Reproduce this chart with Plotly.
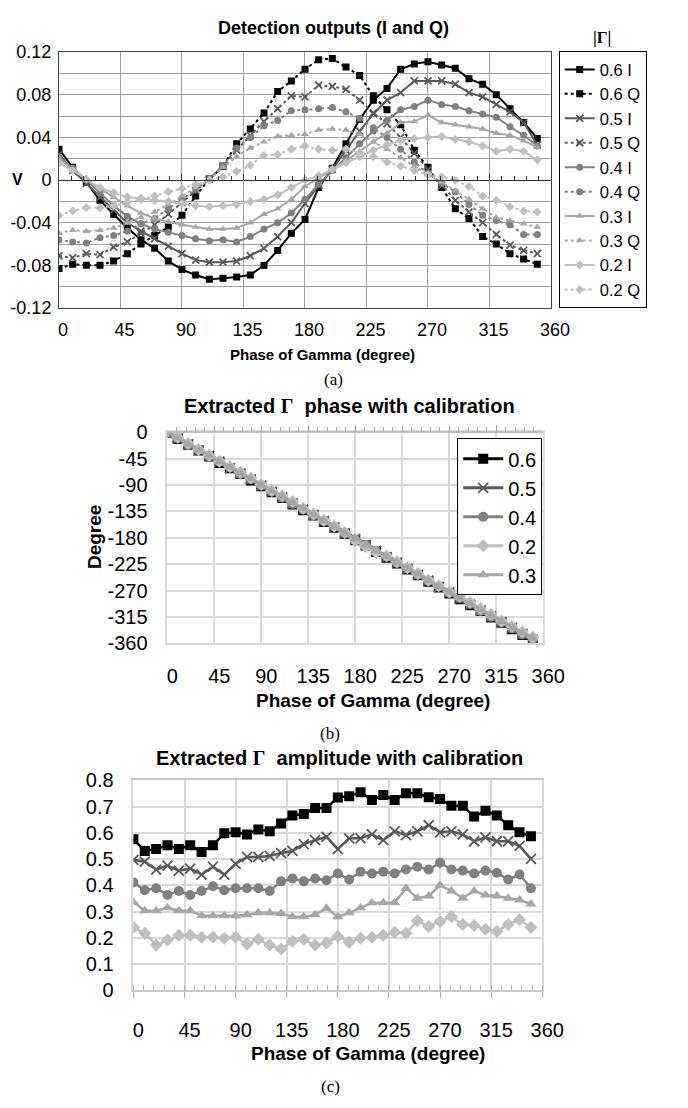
import plotly.graph_objects as go

W, H = 688, 1108
def fx(p): return p / W
def fy(p): return 1 - p / H

FONT = "Liberation Sans, Arial, Helvetica, sans-serif"
SERIF = "Liberation Serif, Times New Roman, serif"

# ---------------- data ----------------
phase = list(range(0, 360, 10))

# (a) detection outputs, volts
I06 = [0.029, 0.012, -0.002, -0.019, -0.032, -0.045, -0.056, -0.064, -0.076, -0.084, -0.089, -0.093, -0.092, -0.091, -0.089, -0.080, -0.066, -0.050, -0.037, -0.007, 0.011, 0.034, 0.057, 0.075, 0.086, 0.104, 0.109, 0.111, 0.108, 0.105, 0.095, 0.090, 0.080, 0.067, 0.054, 0.039]
Q06 = [-0.083, -0.079, -0.080, -0.080, -0.076, -0.069, -0.060, -0.052, -0.044, -0.033, -0.015, 0.001, 0.013, 0.034, 0.048, 0.063, 0.083, 0.093, 0.104, 0.113, 0.114, 0.106, 0.098, 0.079, 0.066, 0.052, 0.028, 0.012, -0.007, -0.027, -0.036, -0.053, -0.060, -0.069, -0.074, -0.079]
I05 = [0.024, 0.009, -0.003, -0.016, -0.028, -0.040, -0.048, -0.055, -0.062, -0.069, -0.075, -0.077, -0.077, -0.076, -0.071, -0.064, -0.053, -0.040, -0.022, -0.005, 0.010, 0.028, 0.046, 0.062, 0.075, 0.082, 0.093, 0.093, 0.093, 0.090, 0.082, 0.078, 0.071, 0.064, 0.054, 0.033]
Q05 = [-0.071, -0.073, -0.069, -0.070, -0.063, -0.058, -0.050, -0.042, -0.032, -0.021, -0.010, 0.001, 0.013, 0.028, 0.042, 0.055, 0.067, 0.079, 0.078, 0.089, 0.088, 0.085, 0.075, 0.063, 0.053, 0.040, 0.025, 0.010, -0.005, -0.019, -0.030, -0.040, -0.051, -0.061, -0.066, -0.069]
I04 = [0.022, 0.011, 0.000, -0.012, -0.024, -0.034, -0.041, -0.046, -0.049, -0.052, -0.055, -0.057, -0.056, -0.058, -0.053, -0.046, -0.040, -0.031, -0.018, -0.004, 0.009, 0.021, 0.034, 0.046, 0.056, 0.066, 0.069, 0.075, 0.071, 0.069, 0.065, 0.062, 0.059, 0.050, 0.042, 0.032]
Q04 = [-0.056, -0.058, -0.059, -0.054, -0.052, -0.048, -0.041, -0.036, -0.027, -0.018, -0.009, 0.001, 0.014, 0.030, 0.040, 0.051, 0.056, 0.065, 0.066, 0.067, 0.068, 0.064, 0.058, 0.049, 0.040, 0.029, 0.017, 0.006, -0.003, -0.011, -0.023, -0.033, -0.038, -0.042, -0.051, -0.051]
I03 = [0.020, 0.010, 0.001, -0.008, -0.016, -0.024, -0.031, -0.036, -0.039, -0.042, -0.044, -0.046, -0.046, -0.045, -0.040, -0.032, -0.027, -0.018, -0.006, 0.002, 0.010, 0.018, 0.027, 0.036, 0.044, 0.054, 0.055, 0.061, 0.054, 0.052, 0.050, 0.048, 0.044, 0.042, 0.037, 0.031]
Q03 = [-0.050, -0.047, -0.048, -0.047, -0.045, -0.040, -0.035, -0.030, -0.023, -0.015, -0.007, 0.000, 0.012, 0.022, 0.030, 0.036, 0.041, 0.042, 0.043, 0.047, 0.048, 0.047, 0.043, 0.036, 0.029, 0.021, 0.013, 0.005, -0.002, -0.010, -0.018, -0.027, -0.035, -0.038, -0.041, -0.044]
I02 = [0.016, 0.009, 0.001, -0.007, -0.012, -0.016, -0.017, -0.019, -0.020, -0.022, -0.024, -0.025, -0.024, -0.023, -0.020, -0.018, -0.014, -0.007, 0.000, 0.004, 0.010, 0.016, 0.022, 0.028, 0.033, 0.037, 0.039, 0.040, 0.041, 0.038, 0.036, 0.032, 0.027, 0.029, 0.027, 0.019]
Q02 = [-0.033, -0.029, -0.026, -0.026, -0.024, -0.021, -0.018, -0.015, -0.011, -0.008, -0.004, 0.000, 0.003, 0.008, 0.014, 0.023, 0.024, 0.029, 0.032, 0.029, 0.028, 0.029, 0.026, 0.022, 0.017, 0.013, 0.009, 0.005, 0.003, 0.000, -0.006, -0.015, -0.019, -0.025, -0.029, -0.030]

# (b) extracted phase, degree
P06 = [0, -11, -21, -31, -41, -52, -61, -71, -82, -92, -102, -112, -123, -133, -142, -153, -163, -173, -184, -193, -204, -214, -224, -234, -244, -255, -265, -275, -285, -295, -305, -316, -325, -336, -346, -357]
P05 = [-1, -10, -20, -31, -40, -50, -61, -70, -80, -91, -101, -111, -121, -132, -141, -151, -162, -172, -182, -192, -202, -213, -222, -233, -243, -253, -264, -273, -284, -294, -304, -314, -324, -334, -344, -354]
P04 = [0, -10, -21, -30, -41, -50, -60, -71, -80, -90, -101, -111, -122, -131, -142, -152, -161, -172, -183, -193, -203, -212, -223, -232, -243, -254, -263, -274, -283, -293, -305, -315, -324, -335, -345, -353]
P02 = [2, -8, -19, -29, -39, -49, -58, -68, -78, -89, -99, -108, -118, -130, -139, -150, -160, -171, -185, -195, -205, -211, -221, -231, -241, -252, -262, -272, -280, -290, -301, -311, -322, -331, -341, -350]
P03 = [1, -9, -20, -30, -40, -50, -59, -69, -79, -90, -100, -110, -120, -130, -140, -151, -161, -172, -182, -192, -202, -212, -222, -232, -242, -253, -263, -273, -282, -292, -303, -313, -323, -333, -342, -351]

# (c) extracted amplitude
A06 = [0.576, 0.531, 0.538, 0.553, 0.538, 0.553, 0.527, 0.553, 0.598, 0.602, 0.594, 0.613, 0.606, 0.636, 0.666, 0.672, 0.695, 0.695, 0.735, 0.740, 0.755, 0.725, 0.744, 0.725, 0.751, 0.751, 0.736, 0.729, 0.703, 0.703, 0.662, 0.684, 0.666, 0.629, 0.602, 0.587]
A05 = [0.497, 0.490, 0.460, 0.475, 0.456, 0.464, 0.441, 0.471, 0.441, 0.482, 0.508, 0.508, 0.512, 0.523, 0.531, 0.557, 0.572, 0.585, 0.538, 0.579, 0.579, 0.594, 0.572, 0.606, 0.591, 0.606, 0.629, 0.602, 0.606, 0.594, 0.568, 0.583, 0.568, 0.568, 0.550, 0.501]
A04 = [0.411, 0.381, 0.389, 0.363, 0.378, 0.363, 0.378, 0.396, 0.381, 0.389, 0.389, 0.389, 0.378, 0.415, 0.426, 0.415, 0.426, 0.419, 0.445, 0.422, 0.452, 0.445, 0.452, 0.445, 0.460, 0.471, 0.460, 0.486, 0.460, 0.456, 0.445, 0.456, 0.448, 0.422, 0.441, 0.389]
A03 = [0.336, 0.303, 0.303, 0.314, 0.303, 0.303, 0.284, 0.284, 0.284, 0.284, 0.288, 0.295, 0.295, 0.292, 0.280, 0.280, 0.288, 0.312, 0.280, 0.295, 0.314, 0.333, 0.333, 0.333, 0.389, 0.351, 0.359, 0.400, 0.378, 0.351, 0.378, 0.363, 0.359, 0.351, 0.344, 0.329]
A02 = [0.239, 0.217, 0.172, 0.191, 0.209, 0.209, 0.202, 0.202, 0.198, 0.202, 0.176, 0.194, 0.172, 0.157, 0.187, 0.194, 0.172, 0.180, 0.205, 0.183, 0.198, 0.202, 0.209, 0.221, 0.217, 0.265, 0.243, 0.262, 0.280, 0.250, 0.247, 0.232, 0.224, 0.250, 0.269, 0.239]

va_ticks = [-0.12, -0.08, -0.04, 0, 0.04, 0.08, 0.12]
va_labels = ["-0.12", "-0.08", "-0.04", "0", "0.04", "0.08", "0.12"]
pb_ticks = [0, -45, -90, -135, -180, -225, -270, -315, -360]
pb_labels = ["0", "-45", "-90", "-135", "-180", "-225", "-270", "-315", "-360"]
x_ticks = [0, 45, 90, 135, 180, 225, 270, 315, 360]

# ---------------- styles ----------------
STY = {
    "0.6": ("#000000", "square"),
    "0.5": ("#595959", "x-thin"),
    "0.4": ("#808080", "circle"),
    "0.3": ("#a6a6a6", "triangle-up"),
    "0.2": ("#bfbfbf", "diamond"),
}

def mk(sym, col, size):
    if sym == "x-thin":
        return dict(symbol=sym, size=size, color=col, line=dict(width=1.8, color=col))
    return dict(symbol=sym, size=size, color=col, line=dict(width=0))

fig = go.Figure()

series_a = [("0.6", I06, Q06), ("0.5", I05, Q05), ("0.4", I04, Q04), ("0.3", I03, Q03), ("0.2", I02, Q02)]
for g, iv, qv in series_a:
    col, sym = STY[g]
    for suf, vals, dash in (("I", iv, "solid"), ("Q", qv, "dot")):
        fig.add_trace(go.Scatter(
            x=phase, y=vals, mode="lines+markers", name=f"{g} {suf}",
            line=dict(color=col, width=2, dash=dash),
            marker=mk(sym, col, 7),
            xaxis="x", yaxis="y", legend="legend"))

series_b = [("0.6", P06), ("0.5", P05), ("0.4", P04), ("0.2", P02), ("0.3", P03)]
for g, vals in series_b:
    col, sym = STY[g]
    fig.add_trace(go.Scatter(
        x=phase, y=vals, mode="lines+markers", name=g,
        line=dict(color=col, width=3), marker=mk(sym, col, 10),
        xaxis="x2", yaxis="y2", legend="legend2"))

series_c = [("0.6", A06), ("0.5", A05), ("0.4", A04), ("0.3", A03), ("0.2", A02)]
for g, vals in series_c:
    col, sym = STY[g]
    fig.add_trace(go.Scatter(
        x=phase, y=vals, mode="lines+markers", name=g, showlegend=False,
        line=dict(color=col, width=2.5), marker=mk(sym, col, 10),
        xaxis="x3", yaxis="y3"))

# helper traces so the crossing axes get drawn
fig.add_trace(go.Scatter(x=[None], y=[None], xaxis="x4", yaxis="y", showlegend=False, hoverinfo="skip"))
fig.add_trace(go.Scatter(x=[None], y=[None], xaxis="x5", yaxis="y2", showlegend=False, hoverinfo="skip"))

tf = lambda s: dict(family=FONT, size=s, color="black")
BIG = 20

fig.update_layout(
    width=W, height=H, margin=dict(l=0, r=0, t=0, b=0),
    paper_bgcolor="white", plot_bgcolor="white",
    font=dict(family=FONT, color="black"),
    xaxis=dict(domain=[fx(60), fx(569)], anchor="y", range=[0, 360], tickvals=x_ticks,
               showgrid=True, gridcolor="#a0a0a0", gridwidth=1, zeroline=False,
               showline=True, mirror=True, linecolor="#404040", linewidth=1,
               ticks="", tickfont=tf(18), ticklabelstandoff=5, ticklabelshift=4),
    yaxis=dict(domain=[fy(303), fy(42)], anchor="x", range=[-0.12, 0.12],
               tickvals=va_ticks, ticktext=va_labels,
               minor=dict(tickmode="linear", tick0=0, dtick=0.02, showgrid=True, gridcolor="#a0a0a0"),
               showgrid=True, gridcolor="#a0a0a0", zeroline=False,
               showline=True, mirror=True, linecolor="#404040", linewidth=1,
               ticks="", tickfont=tf(18), ticklabelstandoff=3),
    xaxis4=dict(overlaying="x", anchor="free", position=fy(172.5), range=[0, 360],
                tickvals=x_ticks, showgrid=False, zeroline=False, showticklabels=False,
                showline=True, linecolor="#303030", linewidth=1,
                ticks="inside", ticklen=6, tickcolor="#303030",
                minor=dict(tickmode="linear", tick0=0, dtick=9, ticks="inside", ticklen=4, tickcolor="#303030")),
    xaxis2=dict(domain=[fx(172), fx(561)], anchor="y2", range=[0, 360], tickvals=x_ticks,
                showgrid=True, gridcolor="#d9d9d9", gridwidth=1.5, zeroline=False,
                showline=True, mirror=True, linecolor="#d9d9d9", linewidth=1.5,
                ticks="", tickfont=tf(BIG), ticklabelstandoff=14, ticklabelshift=5),
    yaxis2=dict(domain=[fy(645), fy(430)], anchor="x2", range=[-360, 0],
                tickvals=pb_ticks, ticktext=pb_labels,
                showgrid=True, gridcolor="#d9d9d9", gridwidth=1.5, zeroline=False,
                showline=True, mirror=True, linecolor="#d9d9d9", linewidth=1.5,
                ticks="", tickfont=tf(BIG), ticklabelstandoff=14),
    xaxis5=dict(overlaying="x2", anchor="free", position=fy(430), range=[0, 360],
                tickvals=x_ticks, showgrid=False, zeroline=False, showticklabels=False,
                showline=True, linecolor="#bfbfbf", linewidth=1.5,
                ticks="inside", ticklen=7, tickcolor="#a6a6a6",
                minor=dict(tickmode="linear", tick0=0, dtick=9, ticks="inside", ticklen=5, tickcolor="#a6a6a6")),
    xaxis3=dict(domain=[fx(137), fx(560)], anchor="y3", range=[0, 360], tickvals=x_ticks,
                showgrid=True, gridcolor="#d9d9d9", gridwidth=1.5, zeroline=False,
                showline=True, mirror=True, linecolor="#c8c8c8", linewidth=1.5,
                ticks="outside", ticklen=6, tickcolor="#b0b0b0",
                minor=dict(tickmode="linear", tick0=0, dtick=9, ticks="inside", ticklen=5, tickcolor="#b0b0b0"),
                tickfont=tf(BIG), ticklabelstandoff=15, ticklabelshift=5),
    yaxis3=dict(domain=[fy(999), fy(785)], anchor="x3", range=[0, 0.8], dtick=0.1,
                showgrid=True, gridcolor="#d9d9d9", gridwidth=1.5, zeroline=False,
                showline=True, mirror=True, linecolor="#d9d9d9", linewidth=1.5,
                ticks="", tickfont=tf(BIG), ticklabelstandoff=14),
    legend=dict(x=fx(577), y=fy(41), xanchor="left", yanchor="top", bgcolor="white",
                bordercolor="black", borderwidth=1, font=tf(16.5), itemwidth=30,
                tracegroupgap=0, itemclick=False, itemdoubleclick=False),
    legend2=dict(x=fx(472), y=fy(436), xanchor="left", yanchor="top", bgcolor="white",
                 bordercolor="black", borderwidth=1, font=tf(20), itemwidth=40,
                 tracegroupgap=0, itemclick=False, itemdoubleclick=False),
)

def ann(text, x, y, size, bold=True, family=FONT, angle=0):
    fig.add_annotation(text=f"<b>{text}</b>" if bold else text, x=fx(x), y=fy(y),
                       xref="paper", yref="paper", showarrow=False, textangle=angle,
                       xanchor="center", yanchor="middle",
                       font=dict(family=family, size=size, color="black"))

G = f'<span style="font-family:{SERIF}">Γ</span>'
ann("Detection outputs (I and Q)", 344, 17, 18)
ann(f'<span style="font-family:{SERIF}">|Γ|</span>', 622, 27, 17)
ann("V", 17, 172, 16)
ann("Phase of Gamma (degree)", 333, 350, 15)
ann("(a)", 344, 376, 17, bold=False, family=SERIF)
ann(f"Extracted {G}  phase with calibration", 361, 403, 20)
ann("Degree", 97, 537, 19, angle=-90)
ann("Phase of Gamma (degree)", 385, 703, 19)
ann("(b)", 340, 737, 17, bold=False, family=SERIF)
ann(f"Extracted {G}  amplitude with calibration", 350, 762, 20)
ann("Phase of Gamma (degree)", 380, 1064, 19)
ann("(c)", 341, 1097, 17, bold=False, family=SERIF)

fig.write_html("out.html")
